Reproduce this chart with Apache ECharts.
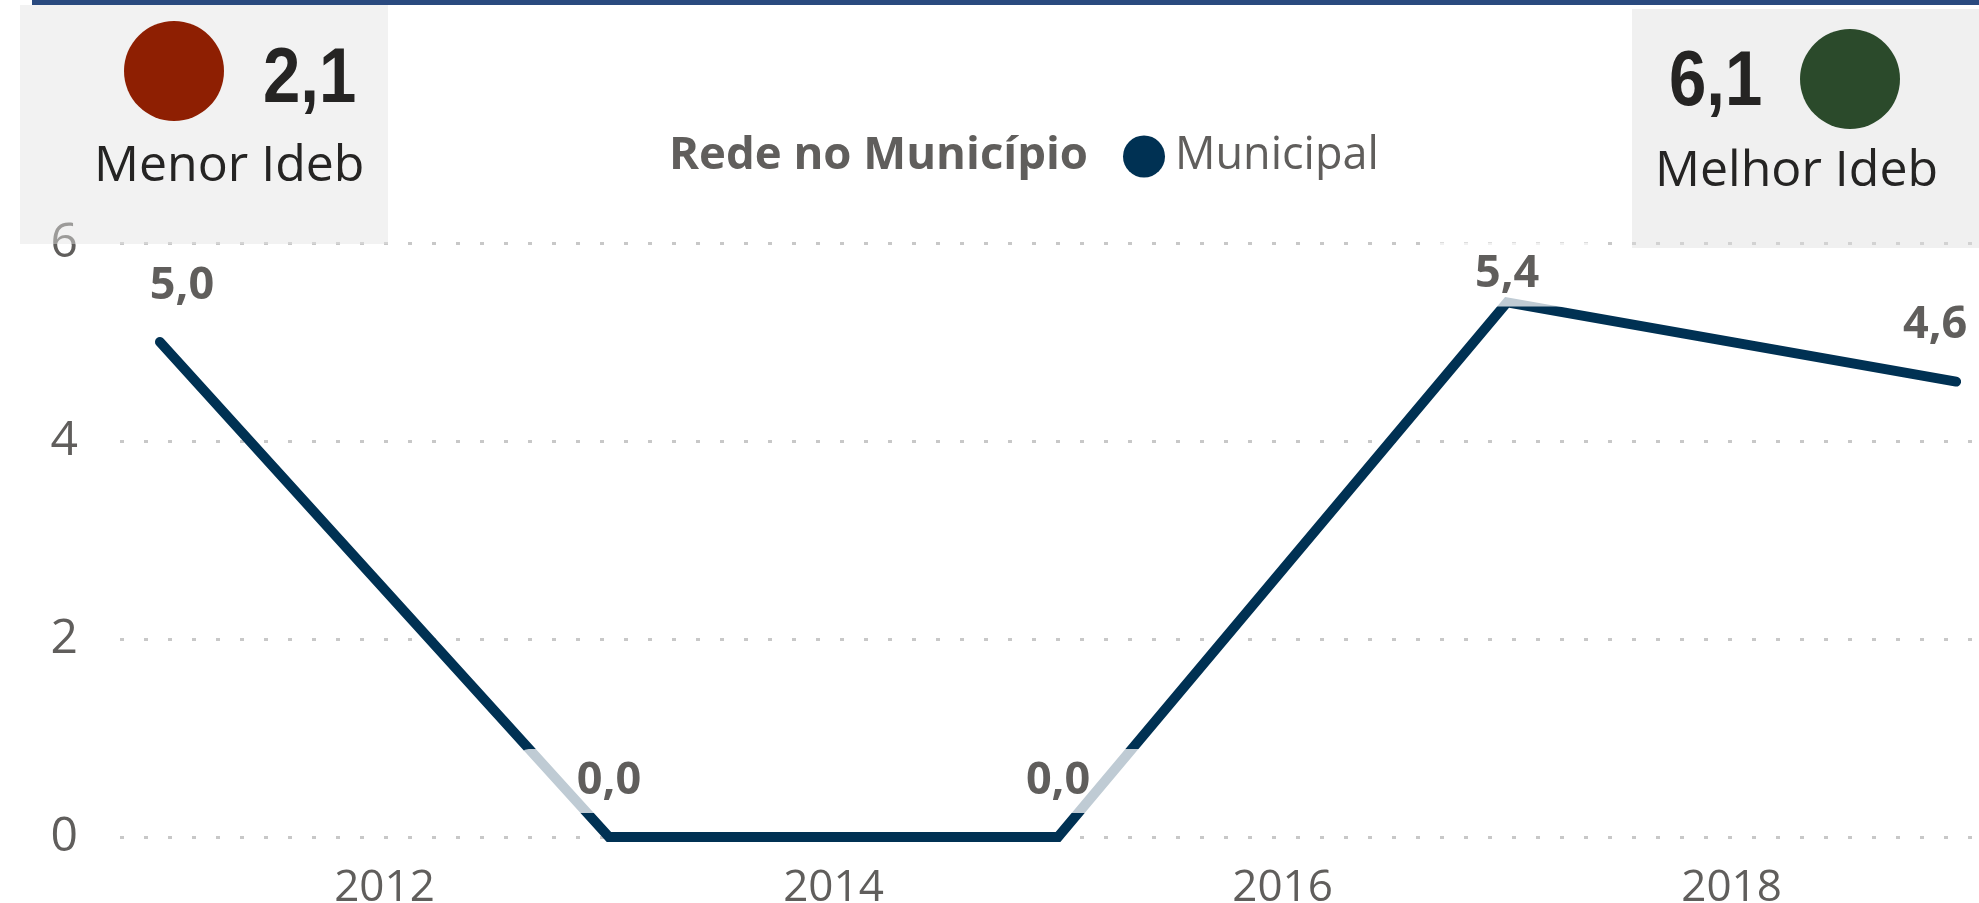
<!DOCTYPE html>
<html>
<head>
<meta charset="utf-8">
<script src="https://cdn.jsdelivr.net/npm/echarts@6/dist/echarts.min.js"></script>
<style>
  html, body { margin: 0; padding: 0; background: #ffffff; }
  #chart { width: 1979px; height: 903px; }
</style>
</head>
<body>
<div id="chart"></div>
<script>
// ---- data ----
var years = [2011, 2013, 2015, 2017, 2019];
var ideb = [5.0, 0.0, 0.0, 5.4, 4.6];
var xTickLabels = [2012, 2014, 2016, 2018];
var yTicks = [0, 2, 4, 6];
var seriesName = 'Municipal';
var legendTitle = 'Rede no Município';
var menorIdeb = 2.1;
var melhorIdeb = 6.1;
var menorLabel = 'Menor Ideb';
var melhorLabel = 'Melhor Ideb';

function fmt(v) { return v.toFixed(1).replace('.', ','); }

var FONT = '"Open Sans", "Noto Sans", sans-serif';
var NARROW = '"Liberation Sans", sans-serif';
var GREY = '#605e5c';
var DARK = '#252423';
var LINE = '#003153';

// label nudges so labels stay inside the plot area (as in the original)
var labelNudge = { 0: [22, 0], 3: [0, 28], 4: [-21, 0] };

var data = years.map(function (y, i) {
  var item = { value: [y, ideb[i]] };
  if (labelNudge[i]) item.label = { offset: labelNudge[i] };
  return item;
});

var chart = echarts.init(document.getElementById('chart'), null, { renderer: 'canvas' });
chart.setOption({
  animation: false,
  backgroundColor: '#ffffff',
  grid: { left: 120, right: 0, top: 243, bottom: 66, containLabel: false, outerBoundsMode: 'none' },
  legend: {
    left: 1123, top: 134, padding: 0,
    icon: 'circle', itemWidth: 42, itemHeight: 42,
    selectedMode: false,
    textStyle: { fontFamily: FONT, fontSize: 45, color: GREY, padding: [0, 0, 0, 5] },
    data: [seriesName]
  },
  xAxis: {
    type: 'value', min: 2010.822, max: 2019.102,
    axisLine: { show: false }, axisTick: { show: false }, splitLine: { show: false },
    axisLabel: {
      customValues: xTickLabels,
      fontFamily: FONT, fontSize: 44, color: GREY, margin: 29,
      formatter: function (v) { return String(v); }
    }
  },
  yAxis: {
    type: 'value', min: yTicks[0], max: yTicks[yTicks.length - 1], interval: 2,
    axisLine: { show: false }, axisTick: { show: false },
    axisLabel: { fontFamily: FONT, fontSize: 48, color: GREY, margin: 42 },
    splitLine: { show: true, lineStyle: { color: '#c8c8c8', width: 3, type: [4, 20] } }
  },
  series: [{
    name: seriesName, type: 'line', data: data,
    symbol: 'circle', symbolSize: 0, showSymbol: true, color: LINE,
    itemStyle: { color: LINE },
    lineStyle: { color: LINE, width: 10, cap: 'round', join: 'miter' },
    emphasis: { disabled: true },
    label: {
      show: true, position: 'top', distance: 24,
      formatter: function (p) { return fmt(p.value[1]); },
      fontFamily: FONT, fontSize: 45, fontWeight: 'bold', color: GREY,
      lineHeight: 44,
      backgroundColor: 'rgba(255,255,255,0.75)', padding: [10, 58], borderRadius: 10
    }
  }],
  graphic: [
    { type: 'rect', z: 100, shape: { x: 32, y: 0, width: 1947, height: 5 }, style: { fill: '#2a4a7f' } },
    { type: 'rect', z: 100, shape: { x: 20, y: 5, width: 368, height: 239 }, style: { fill: 'rgba(227,227,227,0.46)' } },
    { type: 'rect', z: 100, shape: { x: 1632, y: 9, width: 347, height: 239 }, style: { fill: 'rgba(222,222,222,0.46)' } },
    { type: 'circle', z: 101, shape: { cx: 174, cy: 71, r: 50 }, style: { fill: '#8e1f02' } },
    { type: 'circle', z: 101, shape: { cx: 1850, cy: 79, r: 50 }, style: { fill: '#2b4a2b' } },
    { type: 'text', z: 101, x: 263, y: 80, scaleX: 0.86, style: { x: 0, y: 0, text: fmt(menorIdeb), font: 'bold 78px ' + NARROW, fill: DARK, verticalAlign: 'middle' } },
    { type: 'text', z: 101, x: 1669, y: 83, scaleX: 0.86, style: { x: 0, y: 0, text: fmt(melhorIdeb), font: 'bold 78px ' + NARROW, fill: DARK, verticalAlign: 'middle' } },
    { type: 'text', z: 101, style: { x: 94, y: 167, text: menorLabel, font: '50px ' + FONT, fill: DARK, verticalAlign: 'middle' } },
    { type: 'text', z: 101, style: { x: 1655, y: 172, text: melhorLabel, font: '50px ' + FONT, fill: DARK, verticalAlign: 'middle' } },
    { type: 'text', z: 101, style: { x: 669, y: 156, text: legendTitle, font: 'bold 45.5px ' + FONT, fill: GREY, verticalAlign: 'middle' } }
  ]
});
</script>
</body>
</html>
